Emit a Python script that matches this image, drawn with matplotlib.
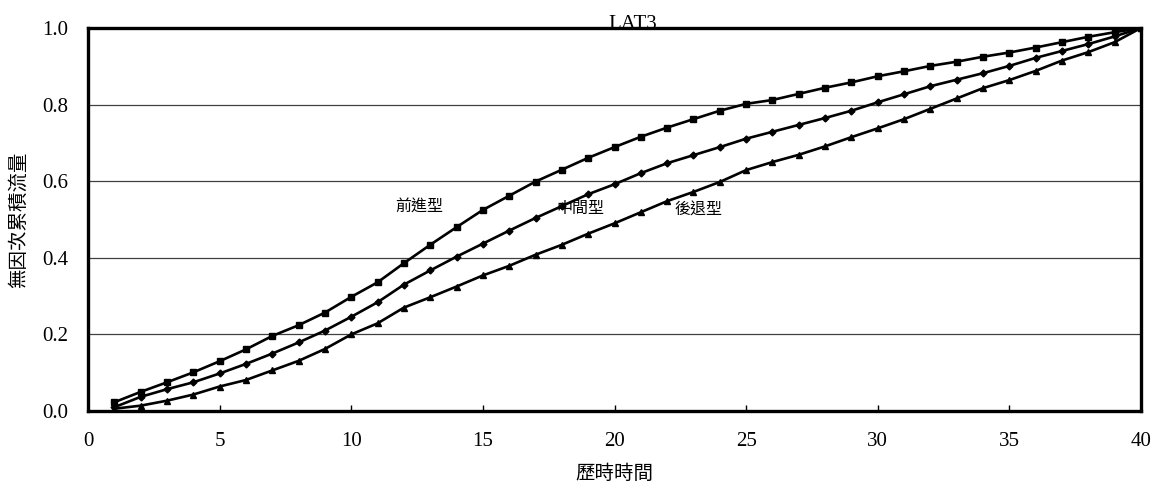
import matplotlib
matplotlib.use("Agg")
import matplotlib.pyplot as plt

# -------------------------------
# DATA
# -------------------------------
hours = [1, 2, 3, 4, 5, 6, 7, 8, 9, 10,
         11, 12, 13, 14, 15, 16, 17, 18, 19, 20,
         21, 22, 23, 24, 25, 26, 27, 28, 29, 30,
         31, 32, 33, 34, 35, 36, 37, 38, 39, 40]

front_type = [0.023, 0.050, 0.075, 0.101, 0.130, 0.161, 0.196, 0.224, 0.257, 0.298,
              0.336, 0.386, 0.434, 0.480, 0.525, 0.562, 0.599, 0.630, 0.661, 0.689,
              0.716, 0.740, 0.762, 0.784, 0.802, 0.812, 0.828, 0.844, 0.858, 0.874,
              0.887, 0.901, 0.912, 0.925, 0.936, 0.949, 0.963, 0.977, 0.989, 1.000]

middle_type = [0.010, 0.037, 0.057, 0.075, 0.098, 0.123, 0.150, 0.179, 0.210, 0.246,
               0.284, 0.330, 0.367, 0.403, 0.437, 0.471, 0.504, 0.535, 0.566, 0.592,
               0.621, 0.647, 0.668, 0.689, 0.711, 0.729, 0.747, 0.765, 0.784, 0.806,
               0.827, 0.848, 0.865, 0.882, 0.901, 0.922, 0.940, 0.958, 0.978, 1.000]

back_type = [0.006, 0.014, 0.027, 0.043, 0.064, 0.081, 0.106, 0.131, 0.162, 0.200,
             0.229, 0.270, 0.297, 0.325, 0.354, 0.379, 0.408, 0.434, 0.463, 0.490,
             0.519, 0.548, 0.572, 0.598, 0.629, 0.650, 0.669, 0.691, 0.715, 0.738,
             0.762, 0.789, 0.816, 0.843, 0.864, 0.888, 0.915, 0.937, 0.963, 1.000]

curve_names = ["前進型", "中間型", "後退型"]
label_x = [12.6, 18.7, 23.2]
label_y = [0.535, 0.530, 0.525]

x_ticks = [0, 5, 10, 15, 20, 25, 30, 35, 40]
y_ticks = [0.0, 0.2, 0.4, 0.6, 0.8, 1.0]

# -------------------------------
# FIGURE
# -------------------------------
serif = ["Liberation Serif", "DejaVu Serif"]
cjk = ["Noto Sans CJK TC", "DejaVu Sans"]

fig = plt.figure(figsize=(11.54, 4.92), dpi=100)
ax = fig.add_axes([0.0763, 0.1646, 0.9124, 0.7785])

ax.plot(hours, front_type, color="black", lw=1.9, marker="s", ms=4.5, zorder=3)
ax.plot(hours, middle_type, color="black", lw=1.9, marker="D", ms=3.5, zorder=3)
ax.plot(hours, back_type, color="black", lw=1.9, marker="^", ms=4.5, zorder=3)

for name, lx, ly in zip(curve_names, label_x, label_y):
    ax.text(lx, ly, name, fontsize=11.5, family=cjk, ha="center", va="center")

ax.set_xlim(0, 40)
ax.set_ylim(0, 1)
ax.set_xticks(x_ticks)
ax.set_yticks(y_ticks)
ax.set_xticklabels([str(t) for t in x_ticks], family=serif, fontsize=15)
ax.set_yticklabels([f"{t:.1f}" for t in y_ticks], family=serif, fontsize=15)
ax.tick_params(axis="x", direction="in", length=4, width=1, pad=15)
ax.tick_params(axis="y", length=0, pad=14)

ax.grid(axis="y", color="0.25", lw=0.9)
ax.set_axisbelow(True)
for side in ["left", "right", "top", "bottom"]:
    ax.spines[side].set_linewidth(2.4)
    ax.spines[side].set_color("black")

ax.text(20.7, 1.01, "LAT3", family=serif, fontsize=15, ha="center", va="center")
ax.set_xlabel("歷時時間", family=cjk, fontsize=14, labelpad=9)
ax.set_ylabel("無因次累積流量", family=cjk, fontsize=14, labelpad=10)

fig.savefig("out.png", dpi=100, facecolor="white")
